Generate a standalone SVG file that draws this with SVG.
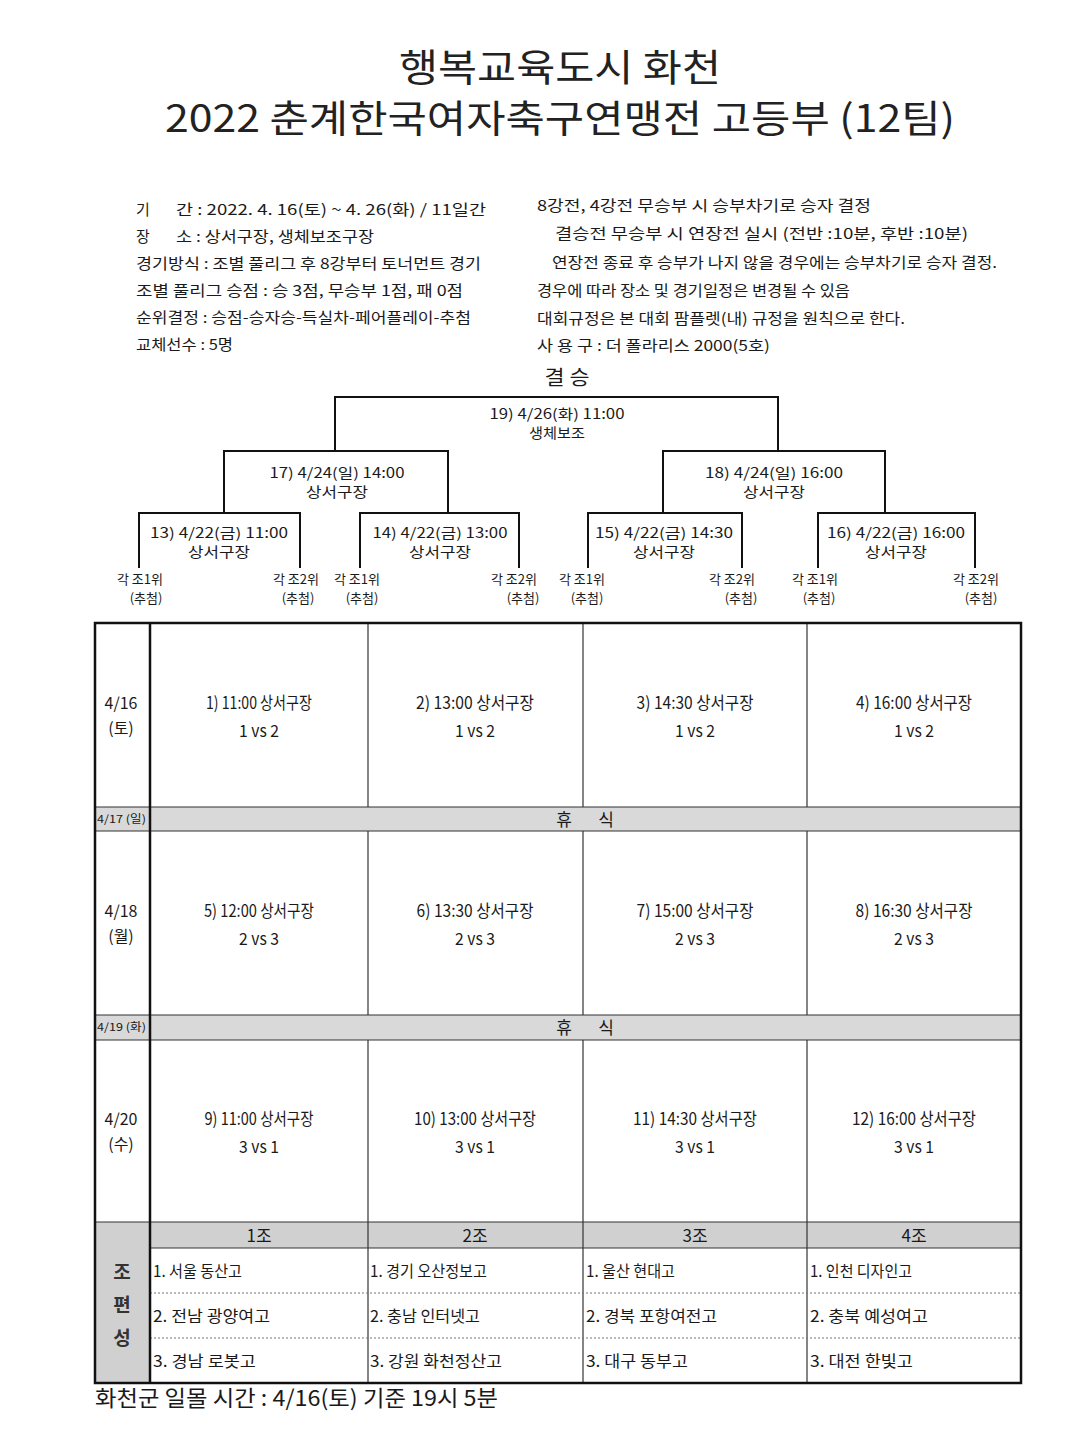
<svg xmlns="http://www.w3.org/2000/svg" width="1080" height="1436" viewBox="0 0 1080 1436">
<style>
text{font-family:"Noto Sans CJK KR","Noto Sans",sans-serif;fill:#1a1a1a}
.title{font-size:38px;text-anchor:middle;fill:#222}
.info{font-size:15px}
.br{font-size:14px;text-anchor:middle}
.leaf{font-size:13px;text-anchor:middle;fill:#555}
.cell{font-size:17px;text-anchor:middle}
.date{font-size:16px;text-anchor:middle}
.small{font-size:11px}
.team{font-size:16px}
.hdr{font-size:17px;text-anchor:middle}
.vert{font-size:19px;font-weight:bold;text-anchor:middle;fill:#333}
.line{stroke:#111;stroke-width:2;fill:none}
.thin{stroke:#333;stroke-width:1.2;fill:none}
.thick{stroke:#111;stroke-width:2.5;fill:none}
.dot{stroke:#777;stroke-width:1;stroke-dasharray:2 2;fill:none}
.gray{fill:#d9d9d9}
</style>
<rect width="1080" height="1436" fill="#fff"/>
<g id="title">
<text class="title" x="560" y="81" textLength="322" lengthAdjust="spacingAndGlyphs">행복교육도시  화천</text>
<text class="title" x="560" y="132" textLength="790" lengthAdjust="spacingAndGlyphs">2022  춘계한국여자축구연맹전  고등부  (12팀)</text>
</g>
<g id="info-left" class="info">
<text x="136" y="215">기</text>
<text x="176" y="215" textLength="310" lengthAdjust="spacingAndGlyphs">간 : 2022. 4. 16(토) ~ 4. 26(화) / 11일간</text>
<text x="136" y="242">장</text>
<text x="176" y="242" textLength="198" lengthAdjust="spacingAndGlyphs">소 : 상서구장, 생체보조구장</text>
<text x="136" y="269" textLength="345" lengthAdjust="spacingAndGlyphs">경기방식 : 조별 풀리그 후 8강부터 토너먼트 경기</text>
<text x="136" y="296" textLength="327" lengthAdjust="spacingAndGlyphs">조별 풀리그 승점 : 승 3점, 무승부 1점, 패 0점</text>
<text x="136" y="323" textLength="335" lengthAdjust="spacingAndGlyphs">순위결정 : 승점-승자승-득실차-페어플레이-추첨</text>
<text x="136" y="350" textLength="97" lengthAdjust="spacingAndGlyphs">교체선수 : 5명</text>
</g>
<g id="info-right" class="info">
<text x="537" y="211" textLength="334" lengthAdjust="spacingAndGlyphs">8강전, 4강전 무승부 시 승부차기로 승자 결정</text>
<text x="555" y="239" textLength="413" lengthAdjust="spacingAndGlyphs">결승전 무승부 시 연장전 실시 (전반 :10분, 후반 :10분)</text>
<text x="552" y="268" textLength="445" lengthAdjust="spacingAndGlyphs">연장전 종료 후 승부가 나지 않을 경우에는 승부차기로 승자 결정.</text>
<text x="537" y="296" textLength="313" lengthAdjust="spacingAndGlyphs">경우에 따라 장소 및 경기일정은 변경될 수 있음</text>
<text x="537" y="324" textLength="368" lengthAdjust="spacingAndGlyphs">대회규정은 본 대회 팜플렛(내) 규정을 원칙으로 한다.</text>
<text x="537" y="351" textLength="233" lengthAdjust="spacingAndGlyphs">사 용 구 : 더 폴라리스 2000(5호)</text>
</g>
<g id="connectors" class="line">
<polyline points="335,450 335,397 778,397 778,450"/>
<polyline points="224,512 224,451 448,451 448,512"/>
<polyline points="663,512 663,451 885,451 885,512"/>
<polyline points="139,568 139,513 300,513 300,568"/>
<polyline points="360,568 360,513 519,513 519,568"/>
<polyline points="588,568 588,513 742,513 742,568"/>
<polyline points="818,568 818,513 975,513 975,568"/>
</g>
<g id="final">
<text x="567" y="385" font-size="20" text-anchor="middle" fill="#444" textLength="45" lengthAdjust="spacingAndGlyphs">결 승</text>
<text class="br" x="557" y="419" textLength="135" lengthAdjust="spacingAndGlyphs">19) 4/26(화) 11:00</text>
<text class="br" x="557" y="438" textLength="56" lengthAdjust="spacingAndGlyphs">생체보조</text>
</g>
<g id="semi-17">
<text class="br" x="337" y="478" textLength="135" lengthAdjust="spacingAndGlyphs">17) 4/24(일) 14:00</text>
<text class="br" x="337" y="497" textLength="62" lengthAdjust="spacingAndGlyphs">상서구장</text>
</g>
<g id="semi-18">
<text class="br" x="774" y="478" textLength="138" lengthAdjust="spacingAndGlyphs">18) 4/24(일) 16:00</text>
<text class="br" x="774" y="497" textLength="62" lengthAdjust="spacingAndGlyphs">상서구장</text>
</g>
<g id="qf-13">
<text class="br" x="219" y="538" textLength="138" lengthAdjust="spacingAndGlyphs">13) 4/22(금) 11:00</text>
<text class="br" x="219" y="557" textLength="62" lengthAdjust="spacingAndGlyphs">상서구장</text>
</g>
<g id="qf-14">
<text class="br" x="440" y="538" textLength="135" lengthAdjust="spacingAndGlyphs">14) 4/22(금) 13:00</text>
<text class="br" x="440" y="557" textLength="62" lengthAdjust="spacingAndGlyphs">상서구장</text>
</g>
<g id="qf-15">
<text class="br" x="664" y="538" textLength="138" lengthAdjust="spacingAndGlyphs">15) 4/22(금) 14:30</text>
<text class="br" x="664" y="557" textLength="62" lengthAdjust="spacingAndGlyphs">상서구장</text>
</g>
<g id="qf-16">
<text class="br" x="896" y="538" textLength="138" lengthAdjust="spacingAndGlyphs">16) 4/22(금) 16:00</text>
<text class="br" x="896" y="557" textLength="62" lengthAdjust="spacingAndGlyphs">상서구장</text>
</g>
<g id="leaves" class="leaf">
<text x="140" y="584">각 조1위</text><text x="146" y="603">(추첨)</text>
<text x="296" y="584">각 조2위</text><text x="298" y="603">(추첨)</text>
<text x="357" y="584">각 조1위</text><text x="362" y="603">(추첨)</text>
<text x="514" y="584">각 조2위</text><text x="523" y="603">(추첨)</text>
<text x="582" y="584">각 조1위</text><text x="587" y="603">(추첨)</text>
<text x="732" y="584">각 조2위</text><text x="741" y="603">(추첨)</text>
<text x="815" y="584">각 조1위</text><text x="819" y="603">(추첨)</text>
<text x="976" y="584">각 조2위</text><text x="981" y="603">(추첨)</text>
</g>
<g id="schedule-table">
<rect class="gray" x="95" y="807" width="926" height="24"/>
<rect class="gray" x="95" y="1015" width="926" height="25"/>
<rect x="150" y="1222" width="871" height="26" fill="#d0d0d0"/>
<rect x="95" y="1222" width="55" height="161" fill="#d0d0d0"/>
<g class="thin">
<line x1="95" y1="807" x2="1021" y2="807"/>
<line x1="95" y1="831" x2="1021" y2="831"/>
<line x1="95" y1="1015" x2="1021" y2="1015"/>
<line x1="95" y1="1040" x2="1021" y2="1040"/>
<line x1="95" y1="1222" x2="1021" y2="1222"/>
<line x1="150" y1="1248" x2="1021" y2="1248"/>
<line x1="368" y1="623" x2="368" y2="807"/>
<line x1="583" y1="623" x2="583" y2="807"/>
<line x1="807" y1="623" x2="807" y2="807"/>
<line x1="368" y1="831" x2="368" y2="1015"/>
<line x1="583" y1="831" x2="583" y2="1015"/>
<line x1="807" y1="831" x2="807" y2="1015"/>
<line x1="368" y1="1040" x2="368" y2="1383"/>
<line x1="583" y1="1040" x2="583" y2="1383"/>
<line x1="807" y1="1040" x2="807" y2="1383"/>
</g>
<line class="dot" x1="150" y1="1293" x2="1021" y2="1293"/>
<line class="dot" x1="150" y1="1338" x2="1021" y2="1338"/>
<line class="thick" x1="150" y1="623" x2="150" y2="1383" stroke-width="2"/>
<rect class="thick" x="95" y="623" width="926" height="760"/>
</g>
<g id="day-0416">
<text class="date" x="121" y="709">4/16</text>
<text class="date" x="121" y="734">(토)</text>
<text class="cell" x="259" y="709" textLength="106" lengthAdjust="spacingAndGlyphs">1) 11:00 상서구장</text>
<text class="cell" x="259" y="737" textLength="40" lengthAdjust="spacingAndGlyphs">1 vs 2</text>
<text class="cell" x="475" y="709" textLength="118" lengthAdjust="spacingAndGlyphs">2) 13:00 상서구장</text>
<text class="cell" x="475" y="737" textLength="40" lengthAdjust="spacingAndGlyphs">1 vs 2</text>
<text class="cell" x="695" y="709" textLength="117" lengthAdjust="spacingAndGlyphs">3) 14:30 상서구장</text>
<text class="cell" x="695" y="737" textLength="40" lengthAdjust="spacingAndGlyphs">1 vs 2</text>
<text class="cell" x="914" y="709" textLength="116" lengthAdjust="spacingAndGlyphs">4) 16:00 상서구장</text>
<text class="cell" x="914" y="737" textLength="40" lengthAdjust="spacingAndGlyphs">1 vs 2</text>
</g>
<g id="rest-0417">
<text class="small" x="97" y="823" textLength="49" lengthAdjust="spacingAndGlyphs">4/17 (일)</text>
<text x="564" y="826" font-size="17" text-anchor="middle">휴</text>
<text x="606" y="826" font-size="17" text-anchor="middle">식</text>
</g>
<g id="day-0418">
<text class="date" x="121" y="917">4/18</text>
<text class="date" x="121" y="942">(월)</text>
<text class="cell" x="259" y="917" textLength="110" lengthAdjust="spacingAndGlyphs">5) 12:00 상서구장</text>
<text class="cell" x="259" y="945" textLength="40" lengthAdjust="spacingAndGlyphs">2 vs 3</text>
<text class="cell" x="475" y="917" textLength="117" lengthAdjust="spacingAndGlyphs">6) 13:30 상서구장</text>
<text class="cell" x="475" y="945" textLength="40" lengthAdjust="spacingAndGlyphs">2 vs 3</text>
<text class="cell" x="695" y="917" textLength="117" lengthAdjust="spacingAndGlyphs">7) 15:00 상서구장</text>
<text class="cell" x="695" y="945" textLength="40" lengthAdjust="spacingAndGlyphs">2 vs 3</text>
<text class="cell" x="914" y="917" textLength="117" lengthAdjust="spacingAndGlyphs">8) 16:30 상서구장</text>
<text class="cell" x="914" y="945" textLength="40" lengthAdjust="spacingAndGlyphs">2 vs 3</text>
</g>
<g id="rest-0419">
<text class="small" x="97" y="1031" textLength="49" lengthAdjust="spacingAndGlyphs">4/19 (화)</text>
<text x="564" y="1034" font-size="17" text-anchor="middle">휴</text>
<text x="606" y="1034" font-size="17" text-anchor="middle">식</text>
</g>
<g id="day-0420">
<text class="date" x="121" y="1125">4/20</text>
<text class="date" x="121" y="1150">(수)</text>
<text class="cell" x="259" y="1125" textLength="109" lengthAdjust="spacingAndGlyphs">9) 11:00 상서구장</text>
<text class="cell" x="259" y="1153" textLength="40" lengthAdjust="spacingAndGlyphs">3 vs 1</text>
<text class="cell" x="475" y="1125" textLength="122" lengthAdjust="spacingAndGlyphs">10) 13:00 상서구장</text>
<text class="cell" x="475" y="1153" textLength="40" lengthAdjust="spacingAndGlyphs">3 vs 1</text>
<text class="cell" x="695" y="1125" textLength="124" lengthAdjust="spacingAndGlyphs">11) 14:30 상서구장</text>
<text class="cell" x="695" y="1153" textLength="40" lengthAdjust="spacingAndGlyphs">3 vs 1</text>
<text class="cell" x="914" y="1125" textLength="124" lengthAdjust="spacingAndGlyphs">12) 16:00 상서구장</text>
<text class="cell" x="914" y="1153" textLength="40" lengthAdjust="spacingAndGlyphs">3 vs 1</text>
</g>
<g id="groups">
<text class="vert" x="122" y="1279">조</text>
<text class="vert" x="122" y="1312">편</text>
<text class="vert" x="122" y="1345">성</text>
<text class="hdr" x="259" y="1242">1조</text>
<text class="hdr" x="475" y="1242">2조</text>
<text class="hdr" x="695" y="1242">3조</text>
<text class="hdr" x="914" y="1242">4조</text>
</g>
<g id="group-1" class="team">
<text x="153" y="1277" textLength="89" lengthAdjust="spacingAndGlyphs">1. 서울 동산고</text>
<text x="153" y="1322" textLength="117" lengthAdjust="spacingAndGlyphs">2.  전남 광양여고</text>
<text x="153" y="1367" textLength="103" lengthAdjust="spacingAndGlyphs">3.  경남 로봇고</text>
</g>
<g id="group-2" class="team">
<text x="370" y="1277" textLength="117" lengthAdjust="spacingAndGlyphs">1. 경기 오산정보고</text>
<text x="370" y="1322" textLength="110" lengthAdjust="spacingAndGlyphs">2.  충남 인터넷고</text>
<text x="370" y="1367" textLength="132" lengthAdjust="spacingAndGlyphs">3.  강원 화천정산고</text>
</g>
<g id="group-3" class="team">
<text x="586" y="1277" textLength="89" lengthAdjust="spacingAndGlyphs">1. 울산 현대고</text>
<text x="586" y="1322" textLength="131" lengthAdjust="spacingAndGlyphs">2.  경북 포항여전고</text>
<text x="586" y="1367" textLength="102" lengthAdjust="spacingAndGlyphs">3.  대구 동부고</text>
</g>
<g id="group-4" class="team">
<text x="810" y="1277" textLength="102" lengthAdjust="spacingAndGlyphs">1. 인천 디자인고</text>
<text x="810" y="1322" textLength="118" lengthAdjust="spacingAndGlyphs">2.  충북 예성여고</text>
<text x="810" y="1367" textLength="103" lengthAdjust="spacingAndGlyphs">3.  대전 한빛고</text>
</g>
<g id="footer">
<text x="95" y="1406" font-size="22" fill="#333" textLength="403" lengthAdjust="spacingAndGlyphs">화천군  일몰  시간  :  4/16(토)  기준  19시  5분</text>
</g>
</svg>
